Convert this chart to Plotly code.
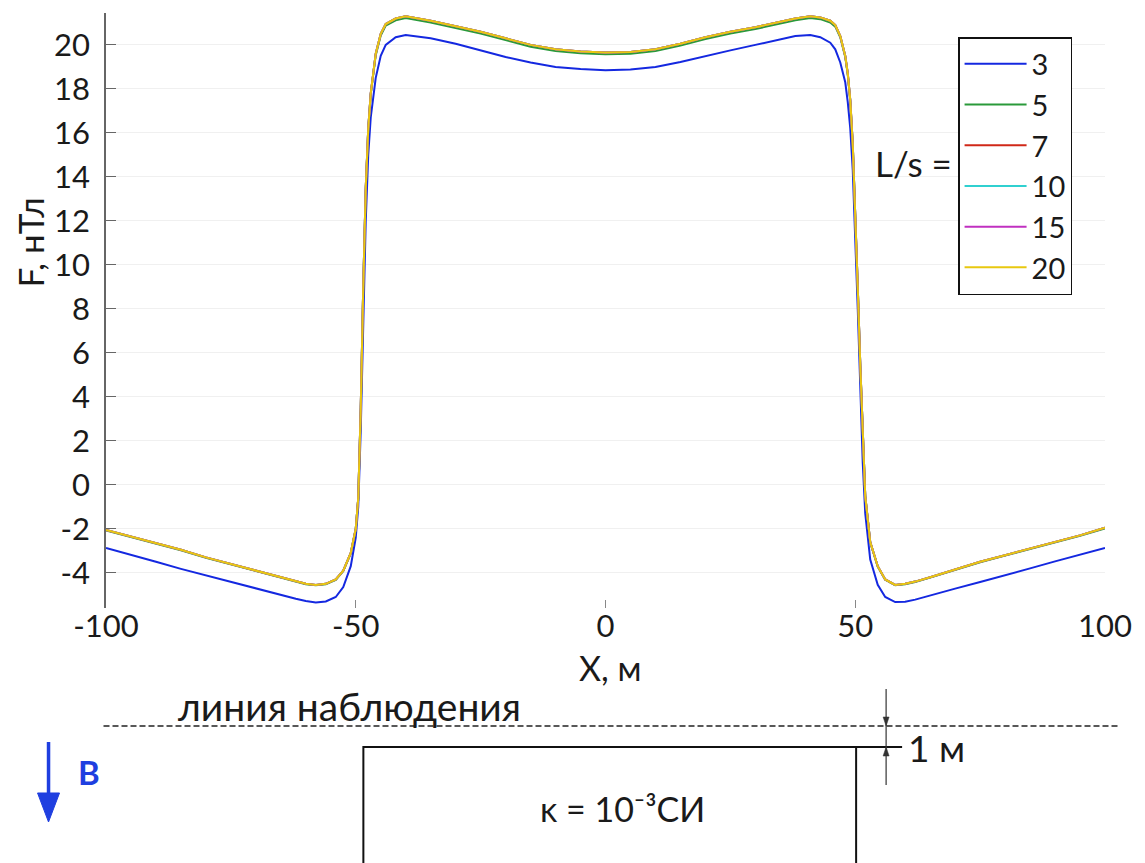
import plotly.graph_objects as go

# ---------------- data ----------------
X = [-100, -95, -90, -85, -80, -75, -70, -65, -62, -60, -58, -56, -54, -52.5, -51,
     -50, -49.5, -49, -48.5, -48, -47.5, -47, -46, -45, -44, -42, -40, -35, -30,
     -25, -20, -15, -10, -5, 0, 5, 10, 15, 20, 25, 30, 35, 38, 41, 43, 45, 46, 47,
     48, 48.5, 49, 49.5, 50, 50.5, 51, 51.5, 52, 53, 54.5, 56, 58, 60, 62, 65, 70,
     75, 80, 85, 90, 95, 100]

F_3 = [-2.87, -3.2, -3.5, -3.82, -4.12, -4.42, -4.72, -5.0, -5.18, -5.28, -5.35, -5.3, -5.1, -4.65, -3.7,
       -2.4, -1.0, 2.5, 7.5, 12.0, 15.0, 16.7, 18.5, 19.5, 20.0, 20.35, 20.45, 20.3, 20.05,
       19.75, 19.45, 19.2, 19.0, 18.9, 18.85, 18.88, 19.0, 19.22, 19.5, 19.75, 20.0, 20.25, 20.4, 20.45, 20.35, 20.1, 19.8, 19.2,
       18.3, 17.4, 16.2, 14.3, 11.5, 8.0, 4.5, 1.0, -1.3, -3.4, -4.55, -5.1, -5.33, -5.32, -5.22, -5.02, -4.72,
       -4.42, -4.12, -3.8, -3.48, -3.17, -2.87]

F_5 = [-2.08, -2.38, -2.68, -2.98, -3.32, -3.62, -3.92, -4.22, -4.4, -4.52, -4.57, -4.52, -4.32, -3.92, -3.12,
       -2.02, -0.62, 3.45, 8.95, 13.45, 16.15, 17.75, 19.53, 20.43, 20.88, 21.12, 21.22, 21.02, 20.77,
       20.52, 20.22, 19.92, 19.72, 19.62, 19.57, 19.6, 19.72, 19.97, 20.27, 20.52, 20.72, 20.97, 21.12, 21.22, 21.17, 21.02, 20.83, 20.35,
       19.45, 18.65, 17.45, 15.45, 12.45, 8.95, 5.45, 1.95, -0.52, -2.62, -3.72, -4.32, -4.57, -4.52, -4.42, -4.22, -3.87,
       -3.52, -3.22, -2.92, -2.62, -2.32, -1.98]

# series L/s = 7, 10, 15, 20 coincide on the picture
F_7_20 = [-2.05, -2.35, -2.65, -2.95, -3.3, -3.6, -3.9, -4.2, -4.38, -4.5, -4.55, -4.5, -4.3, -3.9, -3.1,
          -2.0, -0.6, 3.5, 9.0, 13.5, 16.2, 17.8, 19.6, 20.5, 20.95, 21.2, 21.3, 21.1, 20.85,
          20.6, 20.3, 20.0, 19.8, 19.7, 19.65, 19.68, 19.8, 20.05, 20.35, 20.6, 20.8, 21.05, 21.2, 21.3, 21.25, 21.1, 20.9, 20.4,
          19.5, 18.7, 17.5, 15.5, 12.5, 9.0, 5.5, 2.0, -0.5, -2.6, -3.7, -4.3, -4.55, -4.5, -4.4, -4.2, -3.85,
          -3.5, -3.2, -2.9, -2.6, -2.3, -1.95]

SERIES_NAMES = ["3", "5", "7", "10", "15", "20"]
SERIES_VALUES = [F_3, F_5, F_7_20, F_7_20, F_7_20, F_7_20]
COLORS = ["#1428e0", "#2a9a3a", "#d02818", "#30d0d0", "#c030c0", "#e8c810"]

Y_TICKS = [-4, -2, 0, 2, 4, 6, 8, 10, 12, 14, 16, 18, 20]
Y_TICK_TEXT = ["-4", "-2", "0", "2", "4", "6", "8", "10", "12", "14", "16", "18", "20"]
X_TICKS = [-100, -50, 0, 50, 100]
X_TICK_TEXT = ["-100", "-50", "0", "50", "100"]

# ---------------- layout geometry ----------------
# The page body has an 8px margin, so the figure is drawn 8px in from the window edge.
OFF = 8
W, H = 1145 - OFF, 863 - OFF
# plot area in window pixels
L_PX, R_PX, T_PX, B_PX = 105.5, 1105, 13, 608


def px(xp):
    return (xp - L_PX) / (R_PX - L_PX)


def py(yp):
    return (B_PX - yp) / (B_PX - T_PX)


def tri(points):
    d = "M " + " L ".join(f"{px(a):.5f},{py(b):.5f}" for a, b in points) + " Z"
    return d


FONT = "Lato, 'Open Sans', sans-serif"
TXT = "#1a1a1a"
BLUE = "#1f3fe0"

fig = go.Figure()
for name, vals, col in zip(SERIES_NAMES, SERIES_VALUES, COLORS):
    fig.add_trace(go.Scatter(x=X, y=vals, mode="lines", name=name,
                             line=dict(color=col, width=2)))

shapes = []
# observation line (dashed)
shapes.append(dict(type="line", xref="paper", yref="paper",
                   x0=px(103), x1=px(1118), y0=py(726), y1=py(726),
                   line=dict(color="#222", width=1.5, dash="6px,3px")))
# body rectangle
shapes.append(dict(type="rect", xref="paper", yref="paper",
                   x0=px(363), x1=px(856), y0=py(747), y1=py(880),
                   line=dict(color="#111", width=2)))
# extension of top edge
shapes.append(dict(type="line", xref="paper", yref="paper",
                   x0=px(856), x1=px(902), y0=py(747), y1=py(747),
                   line=dict(color="#111", width=2)))
# dimension line with small arrowheads
shapes.append(dict(type="line", xref="paper", yref="paper",
                   x0=px(886), x1=px(886), y0=py(689), y1=py(785),
                   line=dict(color="#333", width=1.2)))
shapes.append(dict(type="path", xref="paper", yref="paper",
                   path=tri([(883, 717), (889, 717), (886, 726)]),
                   fillcolor="#333", line=dict(color="#333", width=0.5)))
shapes.append(dict(type="path", xref="paper", yref="paper",
                   path=tri([(883, 756), (889, 756), (886, 747)]),
                   fillcolor="#333", line=dict(color="#333", width=0.5)))
# field direction arrow B
shapes.append(dict(type="line", xref="paper", yref="paper",
                   x0=px(48), x1=px(48), y0=py(742), y1=py(800),
                   line=dict(color=BLUE, width=3.5)))
shapes.append(dict(type="path", xref="paper", yref="paper",
                   path=tri([(37, 793), (59, 793), (48, 822)]),
                   fillcolor=BLUE, line=dict(color=BLUE, width=1)))

annotations = []
# axis titles
annotations.append(dict(text="F, нТл", xref="paper", yref="paper", x=px(29), y=py(243),
                        xanchor="center", yanchor="middle",
                        textangle=-90, showarrow=False, font=dict(size=35, color=TXT, family=FONT)))
annotations.append(dict(text="X, м", xref="paper", yref="paper", x=px(610), y=py(667),
                        xanchor="center", yanchor="middle",
                        showarrow=False, font=dict(size=34, color=TXT, family=FONT)))
# legend prefix
annotations.append(dict(text="L/s =", xref="paper", yref="paper", x=px(954), y=py(163),
                        xanchor="right", yanchor="middle", showarrow=False,
                        font=dict(size=35, color=TXT, family=FONT)))
# schematic texts
annotations.append(dict(text="линия наблюдения", xref="paper", yref="paper", x=px(349), y=py(706),
                        xanchor="center", yanchor="middle", showarrow=False,
                        font=dict(size=39, color=TXT, family=FONT)))
annotations.append(dict(text="1 м", xref="paper", yref="paper", x=px(906), y=py(747),
                        xanchor="left", yanchor="middle", showarrow=False,
                        font=dict(size=37, color=TXT, family=FONT)))
annotations.append(dict(text="κ = 10⁻³СИ", xref="paper", yref="paper", x=px(622), y=py(808),
                        xanchor="center", yanchor="middle", showarrow=False,
                        font=dict(size=34, color=TXT, family=FONT)))
annotations.append(dict(text="<b>B</b>", xref="paper", yref="paper", x=px(88), y=py(772),
                        xanchor="center", yanchor="middle", showarrow=False,
                        font=dict(size=33, color=BLUE, family=FONT)))

fig.update_layout(
    width=W, height=H, autosize=False,
    margin=dict(l=L_PX - OFF, r=(W + OFF) - R_PX, t=T_PX - OFF, b=(H + OFF) - B_PX, pad=0),
    paper_bgcolor="white", plot_bgcolor="white",
    font=dict(family=FONT, size=31, color=TXT),
    showlegend=True,
    legend=dict(x=px(958), y=py(37), xanchor="left", yanchor="top",
                bgcolor="white", bordercolor="#111", borderwidth=1.5,
                font=dict(size=29, color=TXT, family=FONT),
                itemwidth=62, tracegroupgap=0),
    xaxis=dict(range=[-100, 100], tickvals=X_TICKS, ticktext=X_TICK_TEXT,
               ticks="inside", ticklen=8, tickcolor="#888", showline=False,
               showgrid=False, zeroline=False, automargin=False,
               ticklabelstandoff=-3,
               tickfont=dict(size=31, color=TXT, family=FONT)),
    yaxis=dict(range=[-5.6, 21.45], tickvals=Y_TICKS, ticktext=Y_TICK_TEXT,
               ticks="inside", ticklen=10, tickcolor="#666", showline=True,
               linecolor="#666", linewidth=1.5, showgrid=True, gridcolor="#f0f0f0",
               zeroline=False, automargin=False, ticklabelstandoff=8,
               tickfont=dict(size=31, color=TXT, family=FONT)),
    yaxis2=dict(range=[-5.6, 21.45], overlaying="y", side="right", tickvals=Y_TICKS,
                showticklabels=False, ticks="inside", ticklen=8, tickcolor="#c8c8c8",
                showline=True, linecolor="#e4e4e4", linewidth=1, showgrid=False,
                zeroline=False, automargin=False),
    shapes=shapes,
    annotations=annotations,
)

fig.write_html("out.html")
